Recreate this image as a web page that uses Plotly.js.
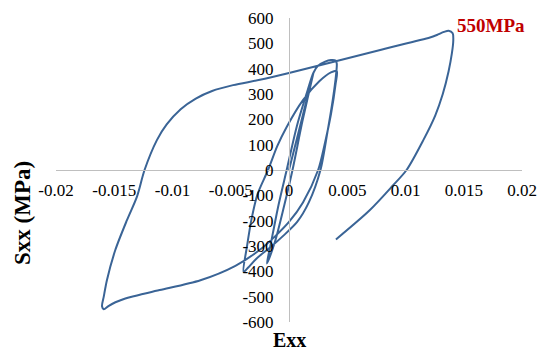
<!DOCTYPE html>
<html>
<head>
<meta charset="utf-8">
<script src="https://cdn.plot.ly/plotly-3.0.1.min.js"></script>
<style>
  html, body { margin: 0; padding: 0; background: #ffffff; }
  #chart { width: 542px; height: 352px; }
</style>
</head>
<body>
<div id="chart"></div>
<script>
// Peak stress reached in both directions of the large cycle (MPa)
const peakStress = 550;

// Strain (Exx) and stress (Sxx, MPa) history, in loading order
const strain = [
  // elastic loading from rest
  0, 0.0011, 0.0021,
  // elastic unloading
  0.00115, 0.0003, -0.0004, -0.0012, -0.0019,
  // elastic reloading, then yielding to the first peak
  -0.0016, -0.0009, -0.0002, 0.0007, 0.0016, 0.0021, 0.0025, 0.0031, 0.0036, 0.0040,
  // unloading into compression
  0.0041, 0.0040, 0.0037, 0.0033, 0.0027, 0.0017, 0.0007, -0.0005, -0.0016, -0.0028, -0.0035, -0.0039,
  // reloading into tension
  -0.0036, -0.0032, -0.0027, -0.0018, -0.0010, -0.0002, 0.0012, 0.0026, 0.0036, 0.0041,
  // large compressive excursion
  0.0040, 0.0036, 0.0031, 0.0025, 0.0012, 0.0000, -0.0012, -0.0025, -0.0046, -0.0076, -0.0111, -0.0135, -0.01405, -0.0149, -0.0155, -0.0159,
  // large tensile excursion
  -0.01605, -0.0159, -0.01563, -0.01491, -0.01391, -0.01305, -0.0124, -0.01134, -0.0105, -0.0093, -0.0080, -0.0066, -0.0048, -0.0025, 0.0000, 0.0041, 0.0080, 0.0121, 0.0127, 0.0133, 0.0137,
  // final unloading
  0.01405, 0.0141, 0.01398, 0.0137, 0.0132, 0.01255, 0.01153, 0.01009, 0.0089, 0.0069, 0.00403
];

const stress = [
  0, 200, 384,
  192, 0, -138, -282, -369,
  -300, -138, 0, 178, 315, 384, 412, 428, 434, 432,
  420, 360, 260, 150, 0, -128, -205, -260, -305, -350, -385, -402,
  -300, -190, -95, 0, 95, 170, 276, 350, 385, 391,
  340, 220, 110, 0, -128, -205, -262, -315, -378, -435, -474, -500, -507, -522, -537, -peakStress,
  -538, -500, -435, -316, -198, -105, 0, 118, 180, 240, 282, 312, 335, 356, 383, 430, 476, 523, 533, 545, peakStress,
  540, 510, 460, 390, 300, 215, 118, 0, -62, -160, -274
];

// Axis ticks
const xTickVals = [-0.02, -0.015, -0.01, -0.005, 0, 0.005, 0.01, 0.015, 0.02];
const xTickText = ['-0.02', '-0.015', '-0.01', '-0.005', '0', '0.005', '0.01', '0.015', '0.02'];
const yTickVals = [-600, -500, -400, -300, -200, -100, 0, 100, 200, 300, 400, 500, 600];
const yTickText = ['-600', '-500', '-400', '-300', '-200', '-100', '0', '100', '200', '300', '400', '500', '600'];

// Peak annotations
const peakLabel = peakStress + 'MPa';

const serif = 'Liberation Serif, Times New Roman, serif';

const trace = {
  x: strain,
  y: stress,
  type: 'scatter',
  mode: 'lines',
  line: { color: '#3a6496', width: 2, shape: 'spline', smoothing: 0.8 },
  hoverinfo: 'skip',
  showlegend: false
};

const axisCommon = {
  showgrid: false,
  zeroline: false,
  showline: true,
  linecolor: '#bfbfbf',
  linewidth: 1,
  ticks: '',
  tickmode: 'array',
  tickfont: { family: serif, size: 17, color: '#000000' },
  anchor: 'free',
  position: 0.5,
  fixedrange: true
};

const layout = {
  width: 542,
  height: 352,
  margin: { l: 56, r: 20, t: 18, b: 30 },
  paper_bgcolor: '#ffffff',
  plot_bgcolor: '#ffffff',
  xaxis: Object.assign({}, axisCommon, {
    range: [-0.02, 0.02],
    tickvals: xTickVals,
    ticktext: xTickText,
    ticklabelstandoff: 5
  }),
  yaxis: Object.assign({}, axisCommon, {
    range: [-600, 600],
    tickvals: yTickVals,
    ticktext: yTickText,
    ticklabelstandoff: 12
  }),
  annotations: [
    {
      text: '<b>Sxx (MPa)</b>', xref: 'paper', yref: 'paper',
      x: -0.0708, y: 0.3586, textangle: -90, showarrow: false,
      xanchor: 'center', yanchor: 'middle',
      font: { family: serif, size: 23, color: '#000000' }
    },
    {
      text: '<b>Exx</b>', xref: 'paper', yref: 'paper',
      x: 0.5, y: -0.0592, showarrow: false,
      xanchor: 'center', yanchor: 'middle',
      font: { family: serif, size: 20, color: '#000000' }
    },
    {
      text: '<b>' + peakLabel + '</b>', xref: 'x', yref: 'y',
      x: 0.0173, y: 572, showarrow: false,
      xanchor: 'center', yanchor: 'middle',
      font: { family: serif, size: 19, color: '#c00000' }
    },
    {
      text: '<b>' + peakLabel + '</b>', xref: 'x', yref: 'y',
      x: -0.0158, y: -606, showarrow: false,
      xanchor: 'center', yanchor: 'middle',
      font: { family: serif, size: 19, color: '#c00000' }
    }
  ]
};

Plotly.newPlot('chart', [trace], layout, { staticPlot: true, displayModeBar: false });
</script>
</body>
</html>
